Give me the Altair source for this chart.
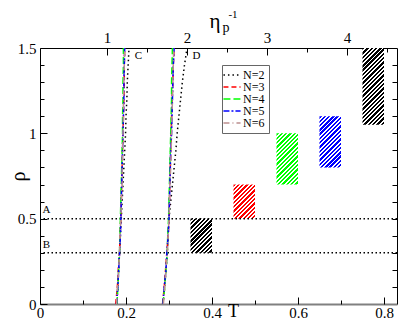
import altair as alt
import pandas as pd

# ---------------- data ----------------
series = ["N=2", "N=3", "N=4", "N=5", "N=6"]
series_colors = ["#000000", "#ff0000", "#00ff00", "#0000ff", "#bc8f8f"]
series_dashes = [[1.5, 3], [5, 3], [7, 3], [6, 2, 2, 2], [6, 3, 1, 3]]

rho_grid = [0.0, 0.1, 0.2, 0.3, 0.4, 0.5, 0.6, 0.7, 0.8, 0.9, 1.0, 1.1, 1.2, 1.3, 1.4, 1.5]

# branch "C" (left bundle)
C_T = {
    "N=2": [0.179, 0.181, 0.183, 0.185, 0.187, 0.189, 0.191, 0.193, 0.195, 0.197, 0.199, 0.200, 0.202, 0.203, 0.205, 0.207],
    "N=3": [0.176, 0.180, 0.182, 0.185, 0.186, 0.188, 0.189, 0.190, 0.191, 0.192, 0.193, 0.194, 0.195, 0.196, 0.196, 0.197],
    "N=4": [0.179, 0.181, 0.183, 0.185, 0.186, 0.187, 0.188, 0.189, 0.190, 0.191, 0.192, 0.192, 0.193, 0.193, 0.194, 0.194],
    "N=5": [0.178, 0.181, 0.183, 0.185, 0.187, 0.188, 0.189, 0.190, 0.191, 0.192, 0.193, 0.194, 0.195, 0.195, 0.196, 0.197],
    "N=6": [0.178, 0.180, 0.183, 0.185, 0.186, 0.188, 0.189, 0.191, 0.191, 0.192, 0.193, 0.194, 0.194, 0.195, 0.196, 0.197],
}
# branch "D" (right bundle)
D_T = {
    "N=2": [0.286, 0.290, 0.293, 0.296, 0.298, 0.300, 0.304, 0.308, 0.312, 0.316, 0.319, 0.323, 0.327, 0.331, 0.336, 0.342],
    "N=3": [0.285, 0.289, 0.292, 0.295, 0.298, 0.300, 0.301, 0.302, 0.303, 0.304, 0.305, 0.306, 0.307, 0.309, 0.310, 0.312],
    "N=4": [0.286, 0.290, 0.293, 0.296, 0.297, 0.299, 0.300, 0.301, 0.302, 0.303, 0.304, 0.305, 0.306, 0.306, 0.307, 0.308],
    "N=5": [0.286, 0.289, 0.293, 0.295, 0.298, 0.300, 0.301, 0.302, 0.303, 0.304, 0.306, 0.307, 0.308, 0.309, 0.310, 0.312],
    "N=6": [0.287, 0.290, 0.293, 0.296, 0.298, 0.300, 0.301, 0.302, 0.304, 0.305, 0.306, 0.307, 0.308, 0.309, 0.310, 0.311],
}

# hatched boxes
box_T0 = [0.35, 0.45, 0.55, 0.65, 0.75]
box_T1 = [0.40, 0.50, 0.60, 0.70, 0.80]
box_rho0 = [0.30, 0.50, 0.70, 0.80, 1.05]
box_rho1 = [0.50, 0.70, 1.00, 1.10, 1.50]
box_colors = ["#000000", "#ff0000", "#00ff00", "#0000ff", "#000000"]

# horizontal reference lines
hline_rho = [0.5, 0.3]

# annotation letters
ann_text = ["A", "B", "C", "D"]
ann_T = [0.015, 0.015, 0.229, 0.364]
ann_rho = [0.548, 0.346, 1.453, 1.453]

# tick values
T_major = [0, 0.2, 0.4, 0.6, 0.8]
T_minor = [0.1, 0.3, 0.5, 0.7]
rho_major = [0, 0.5, 1, 1.5]
rho_minor = [0.1, 0.2, 0.3, 0.4, 0.6, 0.7, 0.8, 0.9, 1.1, 1.2, 1.3, 1.4]
rho_right = [0.1, 0.2, 0.3, 0.4, 0.5, 0.6, 0.7, 0.8, 0.9, 1.0, 1.1, 1.2, 1.3, 1.4]
eta_major = [1, 2, 3, 4]
eta_minor = [1.5, 2.5, 3.5, 4.5]

# ---------------- layout / style ----------------
W, H = 357, 256
PX_PER_T = 430.0
XMAX, YMAX = W / PX_PER_T, 1.5
ETA_PER_PX = 1 / 80.0
eta_domain = [0.1625, 0.1625 + W * ETA_PER_PX]
SERIF = "Liberation Serif, Times New Roman, Times, DejaVu Serif, serif"

rows = []
for s in series:
    for branch, table in (("C", C_T), ("D", D_T)):
        for r, t in zip(rho_grid, table[s]):
            rows.append({"N": s, "branch": branch, "T": t, "rho": r})
lines_df = pd.DataFrame(rows)
ann_df = pd.DataFrame({"label": ann_text, "T": ann_T, "rho": ann_rho})
eta_df = pd.DataFrame({"eta": eta_major})


def xs():
    return alt.Scale(domain=[0, XMAX], nice=False, zero=False)


def ys():
    return alt.Scale(domain=[0, YMAX], nice=False, zero=False)


def ax(**kw):
    base = dict(grid=False, title=None, labels=False, ticks=False, domain=False,
                labelFlush=False, labelOverlap=False)
    base.update(kw)
    return alt.Axis(**base)


def hatch(color, w, h, period=4.3):
    k = (w + h) / (w * w + h * h)
    x2, y2 = w * k, h * k
    step = period / (w + h)
    stops = []
    t = 0.0
    while t < 1:
        a = round(t, 4)
        b = round(min(t + step * 0.55, 1), 4)
        c = round(min(t + step, 1), 4)
        stops += [alt.GradientStop(offset=a, color=color),
                  alt.GradientStop(offset=b, color=color),
                  alt.GradientStop(offset=b, color="white"),
                  alt.GradientStop(offset=c, color="white")]
        t += step
    return alt.LinearGradient(gradient="linear", stops=stops, x1=0, y1=0,
                              x2=round(x2, 4), y2=round(y2, 4))


lab = dict(labelFont=SERIF, labelFontSize=15, labelColor="black")

leg = alt.Legend(title=None, orient="none", legendX=182, legendY=17,
                 symbolType="M-1.9,0L1.9,0", symbolSize=81, symbolStrokeWidth=1.5,
                 labelFont=SERIF, labelFontSize=12, labelColor="black",
                 labelOffset=5, strokeColor="#666666", fillColor="white",
                 padding=4, rowPadding=0)

lines = alt.Chart(lines_df).mark_line(strokeWidth=1.5).encode(
    x=alt.X("T:Q", scale=xs(), axis=ax(
        orient="bottom", labels=True, domain=True, domainColor="#808080", domainWidth=2,
        values=T_major, format="~g", labelPadding=1, **lab,
        title="T", titleFont=SERIF, titleFontSize=18, titleFontWeight="normal",
        titleColor="black", titleX=193, titleY=12, titleBaseline="alphabetic")),
    y=alt.Y("rho:Q", scale=ys(), axis=ax(
        orient="left", labels=True, domain=True, domainColor="black", domainWidth=1,
        values=rho_major, format="~g", labelPadding=4, **lab,
        title="ρ", titleFont=SERIF, titleFontSize=20, titleFontWeight="normal",
        titleColor="black", titleX=-22, titleY=128, titleBaseline="middle",
        titleAlign="center")),
    color=alt.Color("N:N", scale=alt.Scale(domain=series, range=series_colors), legend=leg),
    strokeDash=alt.StrokeDash("N:N", scale=alt.Scale(domain=series, range=series_dashes), legend=leg),
    detail="branch:N",
    order=alt.Order("rho:Q"),
)

hl = alt.Chart(pd.DataFrame({"rho": hline_rho})).mark_rule(
    color="black", strokeWidth=1.5, strokeDash=[1.5, 2.5]
).encode(y=alt.Y("rho:Q", scale=ys(), axis=None))

px_y = H / YMAX
boxes = []
for i in range(len(box_T0)):
    w = (box_T1[i] - box_T0[i]) * PX_PER_T
    h = (box_rho1[i] - box_rho0[i]) * px_y
    df = pd.DataFrame({"T0": [box_T0[i]], "T1": [box_T1[i]],
                       "r0": [box_rho0[i]], "r1": [box_rho1[i]]})
    boxes.append(alt.Chart(df).mark_rect(fill=hatch(box_colors[i], w, h), strokeWidth=0).encode(
        x=alt.X("T0:Q", scale=xs(), axis=None), x2="T1:Q",
        y=alt.Y("r0:Q", scale=ys(), axis=None), y2="r1:Q"))

tk = dict(ticks=True, tickColor="black", tickWidth=1)

ann = alt.Chart(ann_df).mark_text(font=SERIF, fontSize=11, color="black").encode(
    x=alt.X("T:Q", scale=xs(), axis=ax(orient="bottom", tickSize=7, offset=-7, values=T_major, **tk)),
    y=alt.Y("rho:Q", scale=ys(), axis=ax(orient="left", tickSize=7, offset=-7, values=rho_major, **tk)),
    text="label:N",
)

minor = alt.Chart(ann_df).mark_point(opacity=0).encode(
    x=alt.X("T:Q", scale=xs(), axis=ax(orient="bottom", tickSize=4, offset=-4, values=T_minor, **tk)),
    y=alt.Y("rho:Q", scale=ys(), axis=ax(orient="left", tickSize=4, offset=-4, values=rho_minor, **tk)),
)

right_ticks = alt.Chart(ann_df).mark_point(opacity=0).encode(
    y=alt.Y("rho:Q", scale=ys(), axis=ax(orient="right", tickSize=5, offset=-5, values=rho_right, **tk)),
)
right_dom = alt.Chart(ann_df).mark_point(opacity=0).encode(
    y=alt.Y("rho:Q", scale=ys(), axis=ax(orient="right", domain=True, domainColor="black", domainWidth=1)),
)


def es():
    return alt.Scale(domain=eta_domain, nice=False, zero=False)


eta_lab = alt.Chart(eta_df).mark_point(opacity=0).encode(
    x=alt.X("eta:Q", scale=es(), axis=ax(orient="top", labels=True, domain=True,
                                         domainColor="black", domainWidth=1,
                                         values=eta_major, format="d", labelPadding=3, **lab)))
eta_maj = alt.Chart(eta_df).mark_point(opacity=0).encode(
    x=alt.X("eta:Q", scale=es(), axis=ax(orient="top", tickSize=7, offset=-7, values=eta_major, **tk)))
eta_min = alt.Chart(eta_df).mark_point(opacity=0).encode(
    x=alt.X("eta:Q", scale=es(), axis=ax(orient="top", tickSize=4, offset=-4, values=eta_minor, **tk)))

title_src = pd.DataFrame({"t": ["η"]})
t_eta = alt.Chart(title_src).mark_text(font=SERIF, fontSize=21, color="black",
                                       align="center", baseline="middle").encode(
    x=alt.value(175), y=alt.value(-26), text=alt.value("η"))
t_p = alt.Chart(title_src).mark_text(font=SERIF, fontSize=14, color="black",
                                     align="center", baseline="middle").encode(
    x=alt.value(186), y=alt.value(-20), text=alt.value("p"))
t_m1 = alt.Chart(title_src).mark_text(font=SERIF, fontSize=11, color="black",
                                      align="center", baseline="middle").encode(
    x=alt.value(193), y=alt.value(-33), text=alt.value("-1"))

chart = alt.layer(
    *boxes, hl, lines, ann, minor, right_ticks, right_dom, eta_lab, eta_maj, eta_min,
    t_eta, t_p, t_m1,
).resolve_scale(x="independent").resolve_axis(x="independent", y="independent").properties(
    width=W, height=H,
    autosize=alt.AutoSizeParams(type="none"),
    padding={"left": 32, "top": 40, "right": 2, "bottom": 16},
).configure_view(stroke=None)

chart.save("out.html", embed_options={"renderer": "svg", "actions": False})
